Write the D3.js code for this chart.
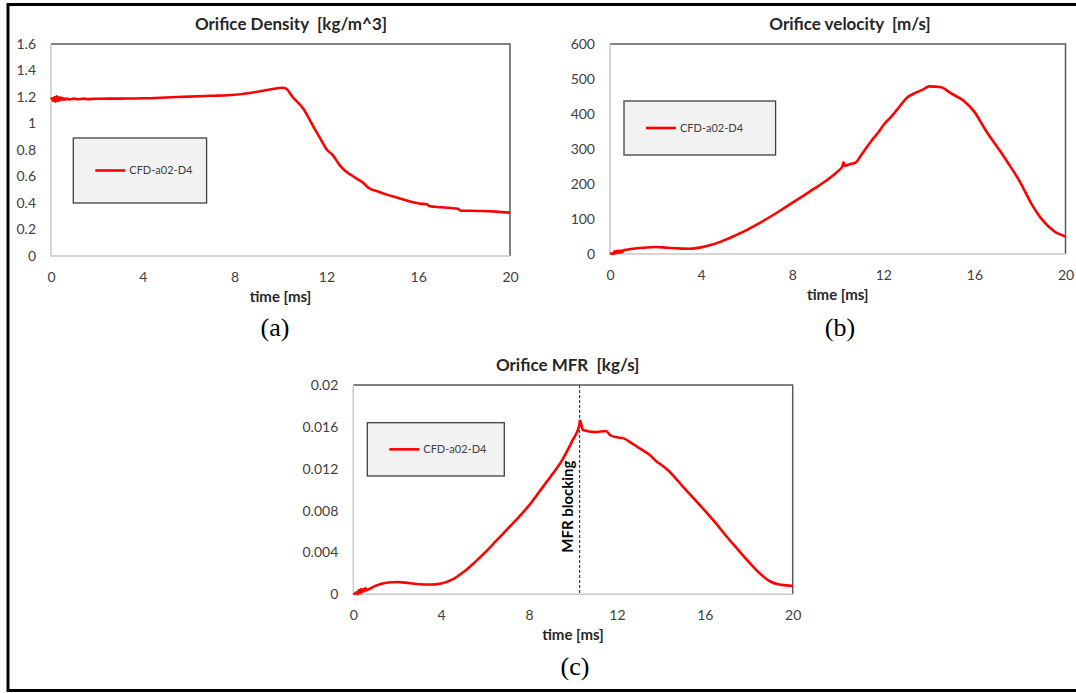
<!DOCTYPE html>
<html><head><meta charset="utf-8">
<script src="https://cdn.jsdelivr.net/npm/d3@7"></script>
<style>html,body{margin:0;padding:0;background:#fff;}svg{display:block;}text{white-space:pre;}</style>
</head><body>
<svg id="chart" width="1076" height="693"></svg>
<script>
// ---- data ----
const timeTicks = [0, 4, 8, 12, 16, 20];
const densityTicks = [0, 0.2, 0.4, 0.6, 0.8, 1, 1.2, 1.4, 1.6];
const velocityTicks = [0, 100, 200, 300, 400, 500, 600];
const mfrTicks = [0, 0.004, 0.008, 0.012, 0.016, 0.02];
const seriesName = "CFD-a02-D4";

const densityT = [0,0.05,0.1,0.15,0.2,0.25,0.3,0.35,0.4,0.45,0.5,0.55,0.6,0.7,0.8,1.0,1.2,1.4,1.6,2,3,4,5,6,7,8,9,9.6,10.08,10.23,10.53,10.98,11.36,11.55,11.73,12.03,12.26,12.56,12.8,13.08,13.35,13.6,13.83,14.28,14.6,15.03,15.4,15.78,16.1,16.38,16.5,17,17.4,17.73,17.85,18.3,18.8,19.4,20];
const density  = [1.18,1.19,1.17,1.20,1.165,1.205,1.17,1.20,1.175,1.195,1.18,1.19,1.18,1.188,1.182,1.188,1.183,1.188,1.184,1.187,1.188,1.19,1.196,1.203,1.209,1.217,1.24,1.258,1.27,1.265,1.20,1.115,1.00,0.94,0.888,0.80,0.765,0.69,0.645,0.611,0.58,0.553,0.515,0.485,0.465,0.443,0.425,0.405,0.395,0.39,0.375,0.368,0.362,0.357,0.342,0.342,0.34,0.335,0.327];

const velocityT = [0,0.1,0.15,0.2,0.25,0.3,0.35,0.4,0.45,0.5,0.55,0.6,0.7,1,1.5,2,2.5,3,3.5,4,4.5,5,5.5,6,6.5,7,7.5,8,8.5,9,9.5,10,10.2,10.25,10.32,10.5,10.8,11,11.5,11.8,12,12.4,12.7,13,13.5,13.8,14,14.5,15,15.5,16,16.5,17,17.5,18,18.5,19,19.5,20];
const velocity  = [0,2,0,8,2,9,3,10,4,10,6,11,12,15,18,20,18,16,15,19,27,39,53,68,86,105,125,146,167,188,210,236,250,262,252,256,262,280,325,349,368,396,420,444,463,472,479,477,458,439,406,353,306,258,206,144,96,65,50];

const mfrT = [0,0.1,0.15,0.2,0.25,0.3,0.35,0.4,0.45,0.5,0.55,0.6,0.7,1,1.5,2,2.5,3,3.5,4,4.5,5,5.5,6,6.5,7,7.5,8,8.5,9,9.5,10,10.28,10.32,10.45,11,11.5,11.7,12,12.3,12.7,13,13.5,13.8,14,14.3,15,16,16.5,17,17.5,18,18.5,19,19.5,20];
const mfr  = [0,0.0001,0.0002,0.0,0.0004,0.0001,0.0005,0.0002,0.0005,0.0003,0.0006,0.0004,0.00048,0.0008,0.0011,0.00118,0.00108,0.00096,0.00093,0.00104,0.0014,0.0021,0.003,0.004,0.0051,0.0062,0.0073,0.0085,0.0099,0.0113,0.0128,0.0148,0.0161,0.0166,0.0157,0.0155,0.0156,0.0152,0.015,0.0149,0.0144,0.014,0.0133,0.0127,0.0124,0.0119,0.0103,0.0080,0.0068,0.0055,0.0043,0.0031,0.0020,0.0012,0.0009,0.0008];
const blockingTime = 10.3;

// ---- drawing ----
const svg = d3.select("#chart");
const FONT = "Lato, 'Open Sans', sans-serif";

svg.append("rect").attr("x", 8).attr("y", 4.5).attr("width", 1090).attr("height", 686)
  .attr("fill", "none").attr("stroke", "#000").attr("stroke-width", 3);

function panel(cfg) {
  const x = d3.scaleLinear().domain([0, 20]).range([cfg.x0, cfg.x1]);
  const y = d3.scaleLinear().domain([0, cfg.ymax]).range([cfg.y1, cfg.y0]);
  const g = svg.append("g");
  g.append("path").attr("d", `M${cfg.x0},${cfg.y0}H${cfg.x1}V${cfg.y1}`)
    .attr("fill", "none").attr("stroke", "#595959").attr("stroke-width", 1.5);
  g.append("path").attr("d", `M${cfg.x0},${cfg.y0}V${cfg.y1}H${cfg.x1}`)
    .attr("fill", "none").attr("stroke", "#c8c8c8").attr("stroke-width", 1.5);

  const ax = g.append("g").attr("transform", `translate(0,${cfg.y1})`)
    .call(d3.axisBottom(x).tickValues(timeTicks).tickSize(0).tickPadding(16).tickFormat(d3.format("d")));
  ax.select(".domain").remove();
  ax.selectAll("text").attr("font-family", FONT).attr("font-size", 14).attr("fill", "#404040");

  const ay = g.append("g").attr("transform", `translate(${cfg.x0},0)`)
    .call(d3.axisLeft(y).tickValues(cfg.yticks).tickSize(0).tickPadding(15).tickFormat(d => String(+d.toFixed(4))));
  ay.select(".domain").remove();
  ay.selectAll("text").attr("font-family", FONT).attr("font-size", 14).attr("fill", "#404040");

  g.append("text").attr("x", cfg.titleX).attr("y", cfg.titleY).attr("text-anchor", "middle")
    .attr("font-family", FONT).attr("font-weight", "bold").attr("font-size", 17).attr("fill", "#262626")
    .text(cfg.title);
  g.append("text").attr("x", (cfg.x0 + cfg.x1) / 2).attr("y", cfg.y1 + 46).attr("text-anchor", "middle")
    .attr("font-family", FONT).attr("font-weight", "bold").attr("font-size", 15).attr("fill", "#262626")
    .text("time [ms]");
  g.append("text").attr("x", cfg.letterX).attr("y", cfg.letterY).attr("text-anchor", "middle")
    .attr("font-family", "'Liberation Serif', 'Times New Roman', serif").attr("font-size", 26).attr("fill", "#000")
    .text(cfg.letter);

  if (cfg.blocking !== undefined) {
    g.append("line").attr("x1", x(cfg.blocking)).attr("x2", x(cfg.blocking))
      .attr("y1", cfg.y0).attr("y2", cfg.y1)
      .attr("stroke", "#404040").attr("stroke-width", 1.2).attr("stroke-dasharray", "3,2");
    g.append("text").attr("transform", `translate(${x(cfg.blocking) - 7},${(cfg.y0 + cfg.y1) / 2 + 17}) rotate(-90)`)
      .attr("text-anchor", "middle").attr("font-family", FONT).attr("font-weight", "bold")
      .attr("font-size", 15).attr("fill", "#000").text("MFR blocking");
  }

  const pts = cfg.t.map((t, i) => [t, cfg.v[i]]);
  g.append("path").datum(pts)
    .attr("d", d3.line().x(d => x(d[0])).y(d => y(d[1])).curve(d3.curveMonotoneX))
    .attr("fill", "none").attr("stroke", "#ff0000").attr("stroke-width", 2.6).attr("stroke-linejoin", "round");

  const L = cfg.legend;
  g.append("rect").attr("x", L[0]).attr("y", L[1]).attr("width", L[2] - L[0]).attr("height", L[3] - L[1])
    .attr("fill", "#f2f2f2").attr("stroke", "#404040").attr("stroke-width", 1.3);
  const ly = (L[1] + L[3]) / 2;
  g.append("line").attr("x1", L[0] + 22).attr("x2", L[0] + 52).attr("y1", ly).attr("y2", ly)
    .attr("stroke", "#ff0000").attr("stroke-width", 2.6);
  g.append("text").attr("x", L[0] + 56).attr("y", ly).attr("dy", "0.35em")
    .attr("font-family", FONT).attr("font-size", 11).attr("fill", "#404040").text(seriesName);
}

panel({x0: 51, x1: 510, y0: 44, y1: 256, ymax: 1.6, yticks: densityTicks,
  title: "Orifice Density  [kg/m^3]", titleX: 291, titleY: 30, letter: "(a)", letterX: 275, letterY: 336,
  t: densityT, v: density, legend: [73.3, 138, 206.6, 203]});
panel({x0: 610, x1: 1065.5, y0: 44, y1: 254, ymax: 600, yticks: velocityTicks,
  title: "Orifice velocity  [m/s]", titleX: 850, titleY: 30, letter: "(b)", letterX: 840, letterY: 336,
  t: velocityT, v: velocity, legend: [624, 101, 775.6, 155]});
panel({x0: 353.3, x1: 792.7, y0: 385, y1: 594.3, ymax: 0.02, yticks: mfrTicks,
  title: "Orifice MFR  [kg/s]", titleX: 567.7, titleY: 371, letter: "(c)", letterX: 575, letterY: 675,
  t: mfrT, v: mfr, legend: [367.3, 422.7, 504.3, 476], blocking: blockingTime});
</script>
</body></html>
